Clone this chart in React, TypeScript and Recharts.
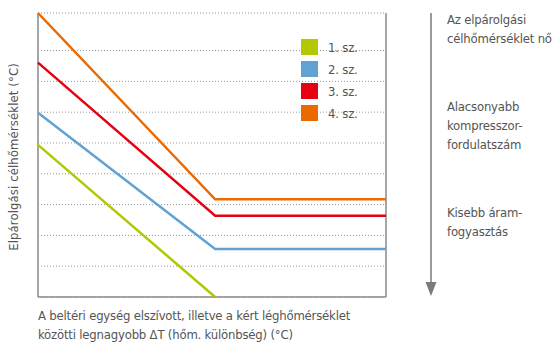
import { LineChart, Line, XAxis, YAxis, CartesianGrid, ReferenceLine } from 'recharts';

// x: largest ΔT (arbitrary units), y: evaporation target temp (arbitrary units)
const xPoints = [0, 5.09, 10];
const sz1 = [4.94, 0, null];
const sz2 = [5.98, 1.56, 1.56];
const sz3 = [7.61, 2.64, 2.64];
const sz4 = [9.22, 3.17, 3.17];

const seriesNames = ['1. sz.', '2. sz.', '3. sz.', '4. sz.'];
const seriesColors = ['#b4c700', '#62a2d2', '#e50012', '#eb6a00'];
const gridValues = [0, 1, 2, 3, 4, 5, 6, 7, 8, 9.22];

const rightNotes = [
  ['Az elpárolgási', 'célhőmérséklet nő'],
  ['Alacsonyabb', 'kompresszor-', 'fordulatszám'],
  ['Kisebb áram-', 'fogyasztás'],
];

const data = xPoints.map((x, i) => ({
  x,
  s1: sz1[i],
  s2: sz2[i],
  s3: sz3[i],
  s4: sz4[i],
}));

const font = "'DejaVu Sans Condensed', 'Liberation Sans', sans-serif";
const textColor = '#555';
const axisColor = '#8a8a8a';

const textStyle = {
  fontFamily: font,
  fontSize: 13,
  letterSpacing: -0.2,
  lineHeight: '19px',
  color: textColor,
  whiteSpace: 'nowrap' as const,
};

export default function App() {
  const keys = ['s1', 's2', 's3', 's4'];
  return (
    <div style={{ position: 'absolute', left: 0, top: 0, width: 558, height: 344, background: '#fff' }}>
      <LineChart width={558} height={344} data={data} margin={{ top: 13, right: 172, bottom: 47, left: 38 }}>
        <XAxis dataKey="x" type="number" domain={[0, 10]} hide />
        <YAxis type="number" domain={[0, 9.22]} ticks={gridValues} interval={0} hide />
        <CartesianGrid vertical={false} stroke="#999" strokeDasharray="1 2" />
        <ReferenceLine x={0} stroke={axisColor} strokeWidth={1.5} />
        <ReferenceLine x={10} stroke={axisColor} strokeWidth={1.5} />
        <ReferenceLine y={0} stroke={axisColor} strokeWidth={1.5} />
        {keys.map((k, i) => (
          <Line
            key={k}
            dataKey={k}
            name={seriesNames[i]}
            stroke={seriesColors[i]}
            strokeWidth={2.5}
            dot={false}
            activeDot={false}
            type="linear"
            isAnimationActive={false}
          />
        ))}
      </LineChart>

      <div style={{ position: 'absolute', left: 301, top: 36, ...textStyle }}>
        {seriesNames.map((name, i) => (
          <div key={name} style={{ display: 'flex', alignItems: 'center', height: 22 }}>
            <span style={{ width: 17, height: 16, background: seriesColors[i], display: 'inline-block' }} />
            <span style={{ marginLeft: 10 }}>{name}</span>
          </div>
        ))}
      </div>

      <div
        style={{
          position: 'absolute',
          left: 13,
          top: 157,
          transform: 'translate(-50%, -50%) rotate(-90deg)',
          ...textStyle,
          letterSpacing: 0.1,
        }}
      >
        Elpárolgási célhőmérséklet (°C)
      </div>

      <div style={{ position: 'absolute', left: 38, top: 306, ...textStyle }}>
        <div>A beltéri egység elszívott, illetve a kért léghőmérséklet</div>
        <div>közötti legnagyobb ΔT (hőm. különbség) (°C)</div>
      </div>

      <svg style={{ position: 'absolute', left: 0, top: 0 }} width={558} height={344} pointerEvents="none">
        <line x1={431} y1={13} x2={431} y2={284} stroke="#7a7a7a" strokeWidth={1.5} />
        <polygon points="425.5,282 436.5,282 431,296" fill="#7a7a7a" />
      </svg>

      {rightNotes.map((lines, i) => (
        <div key={i} style={{ position: 'absolute', left: 447, top: [10, 97, 203][i], ...textStyle }}>
          {lines.map((l) => (
            <div key={l}>{l}</div>
          ))}
        </div>
      ))}
    </div>
  );
}
